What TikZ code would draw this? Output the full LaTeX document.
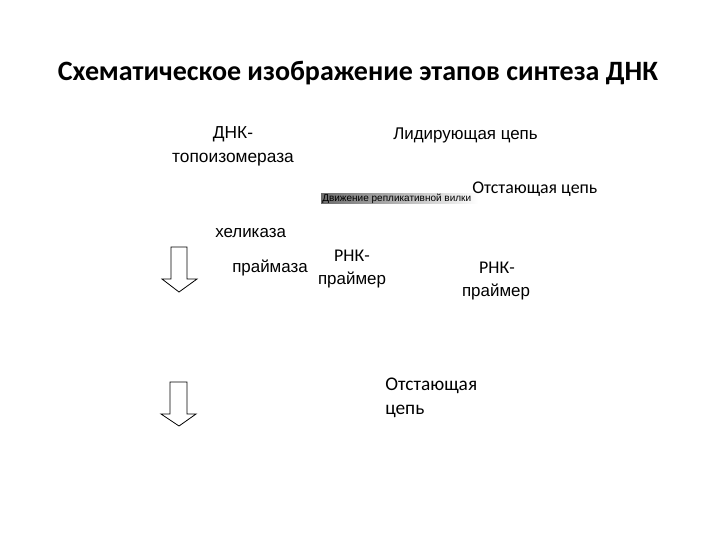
\documentclass[tikz,border=0pt]{standalone}
\usepackage{fontspec}
\setmainfont{Liberation Sans}
\newfontfamily\calib{Carlito}
\begin{document}
\begin{tikzpicture}[x=0.75pt,y=-0.75pt,
  lbl/.style={inner sep=0pt,anchor=base west,font=\fontsize{12.7}{15}\selectfont},
  clb/.style={inner sep=0pt,anchor=base west,font=\calib\fontsize{13.4}{16}\selectfont},
  blockarrow/.style={draw=black,line width=0.6pt,fill=white}]
\useasboundingbox (0,0) rectangle (720,540);
\node[inner sep=0pt,anchor=base,font=\calib\bfseries\fontsize{21}{24}\selectfont] (title) at (358,80) {Схематическое изображение этапов синтеза ДНК};
\node[lbl,anchor=base,font=\fontsize{13}{15}\selectfont] (dnk1) at (233,138) {ДНК-};
\node[lbl,anchor=base,font=\fontsize{13}{15}\selectfont] (dnk2) at (233,162) {топоизомераза};
\node[lbl] (lead) at (393,139) {Лидирующая цепь};
\shade[left color=black!58,right color=white] (321,193) rectangle (478,203);
\node[inner sep=0pt,anchor=base west,font=\fontsize{7.5}{9}\selectfont] (fork) at (322,201.5) {Движение репликативной вилки};
\node[clb] (lag1) at (472,193) {Отстающая цепь};
\node[lbl] (hel) at (215,237) {хеликаза};
\node[lbl] (prim) at (232,272) {праймаза};
\node[clb,anchor=base] (rnk1a) at (352,261) {РНК-};
\node[lbl,anchor=base] (rnk1b) at (352,284) {праймер};
\node[clb,anchor=base] (rnk2a) at (497,273) {РНК-};
\node[lbl,anchor=base] (rnk2b) at (496,296) {праймер};
\node[clb,font=\calib\fontsize{14.5}{17}\selectfont] (lag2a) at (385,390) {Отстающая};
\node[clb,font=\calib\fontsize{14.5}{17}\selectfont] (lag2b) at (385,414) {цепь};
\draw[blockarrow] (171,247) -- (187,247) -- (187,279) -- (197,279) -- (179,292) -- (162,279) -- (171,279) -- cycle;
\draw[blockarrow] (170,382) -- (187,382) -- (187,414) -- (196,414) -- (179,426) -- (161,414) -- (170,414) -- cycle;
\end{tikzpicture}
\end{document}
